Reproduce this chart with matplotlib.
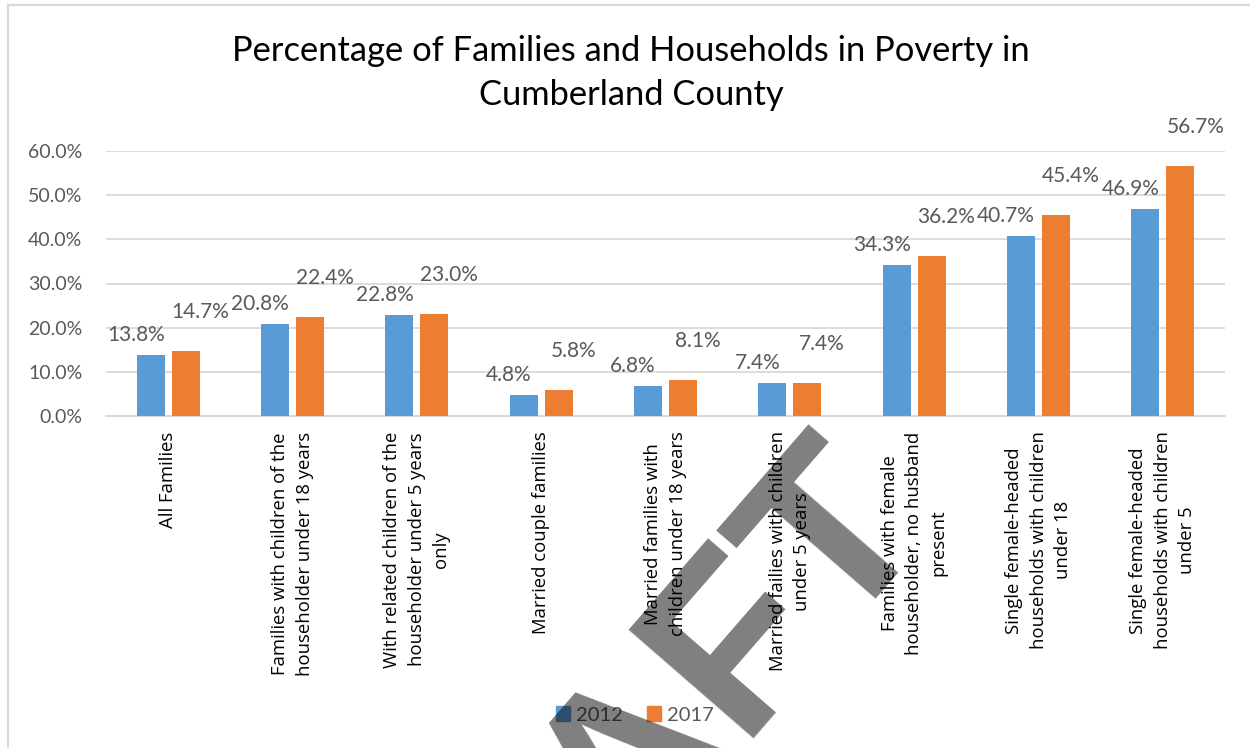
import matplotlib
matplotlib.use("Agg")
import matplotlib.pyplot as plt
from matplotlib.patches import Patch
import numpy as np

categories = [
    "All Families",
    "Families with children of the\nhouseholder under 18 years",
    "With related children of the\nhouseholder under 5 years\nonly",
    "Married couple families",
    "Married families with\nchildren under 18 years",
    "Married failies with children\nunder 5 years",
    "Families with female\nhouseholder, no husband\npresent",
    "Single female-headed\nhouseholds with children\nunder 18",
    "Single female-headed\nhouseholds with children\nunder 5",
]
values_2012 = [13.8, 20.8, 22.8, 4.8, 6.8, 7.4, 34.3, 40.7, 46.9]
values_2017 = [14.7, 22.4, 23.0, 5.8, 8.1, 7.4, 36.2, 45.4, 56.7]
series_names = ["2012", "2017"]
yticks = [0, 10, 20, 30, 40, 50, 60]
title = "Percentage of Families and Households in Poverty in\nCumberland County"

BLUE = "#5B9BD5"
ORANGE = "#ED7D31"
GRID = "#D9D9D9"
TXT = "#595959"
FONT = "Lato"

plt.rcParams["font.family"] = [FONT, "DejaVu Sans"]

W, H = 1250, 748
fig = plt.figure(figsize=(W / 100, H / 100), dpi=100)

# frame border lines (left + top)
fig.add_artist(plt.Line2D([7.5 / W, 7.5 / W], [0, 1 - 5 / H], color=GRID, lw=1.6))
fig.add_artist(plt.Line2D([7.5 / W, 1], [1 - 5 / H, 1 - 5 / H], color=GRID, lw=1.6))

left, right = 106 / W, 1225 / W
bottom, top = 1 - 416 / H, 1 - 151 / H
ax = fig.add_axes([left, bottom, right - left, top - bottom])

x = np.arange(len(categories))
bw = 0.225
off = 0.14
b1 = ax.bar(x - off, values_2012, bw, color=BLUE, zorder=3)
b2 = ax.bar(x + off, values_2017, bw, color=ORANGE, zorder=3)

ax.set_xlim(-0.5, len(categories) - 0.5)
ax.set_ylim(0, 60)
ax.set_yticks(yticks)
ax.set_yticklabels([f"{v:.1f}%" for v in yticks], fontsize=14, color=TXT)
ax.yaxis.grid(True, color=GRID, lw=1.3, zorder=0)
ax.set_axisbelow(True)
for s in ["left", "right", "top"]:
    ax.spines[s].set_visible(False)
ax.spines["bottom"].set_color(GRID)
ax.spines["bottom"].set_linewidth(1.5)
ax.tick_params(axis="y", length=0, pad=17)
ax.tick_params(axis="x", length=0, pad=11)

ax.set_xticks(x)
ax.set_xticklabels(categories)
for t in ax.get_xticklabels():
    t.set_rotation(90)
    t.set_ha("center")
    t.set_va("top")
    t.set_multialignment("center")
    t.set_fontfamily(["Open Sans", "DejaVu Sans"])
    t.set_fontsize(13.3)
    t.set_linespacing(1.46)
    t.set_color("#000000")

for bars, vals, dx, dy in [(b1, values_2012, -15, 20), (b2, values_2017, 15, 39)]:
    for rect, v in zip(bars, vals):
        ax.annotate(f"{v:.1f}%", (rect.get_x() + rect.get_width() / 2, rect.get_height()),
                    xytext=(dx * 0.72, dy * 0.72), textcoords="offset points",
                    ha="center", va="center", fontsize=15, color=TXT, zorder=4)

fig.text(631 / W, 1 - 73 / H, title, ha="center", va="center", fontsize=24.8,
         color="#000000", linespacing=1.45)

handles = [Patch(color=BLUE, label=series_names[0]), Patch(color=ORANGE, label=series_names[1])]
fig.legend(handles=handles, loc="center", bbox_to_anchor=(635 / W, 1 - 715 / H), ncol=2,
           frameon=False, fontsize=14.5, handlelength=0.7, handleheight=0.7,
           handletextpad=0.3, columnspacing=1.2, labelcolor=TXT)

# DRAFT watermark
fig.text(930 / W, 1 - 518 / H, "DRAFT", ha="right", va="baseline", rotation=49,
         rotation_mode="anchor", fontsize=172, fontweight="bold",
         family=["Liberation Sans", "DejaVu Sans"], color="black", alpha=0.5, zorder=10)

fig.savefig("out.png", dpi=100)
